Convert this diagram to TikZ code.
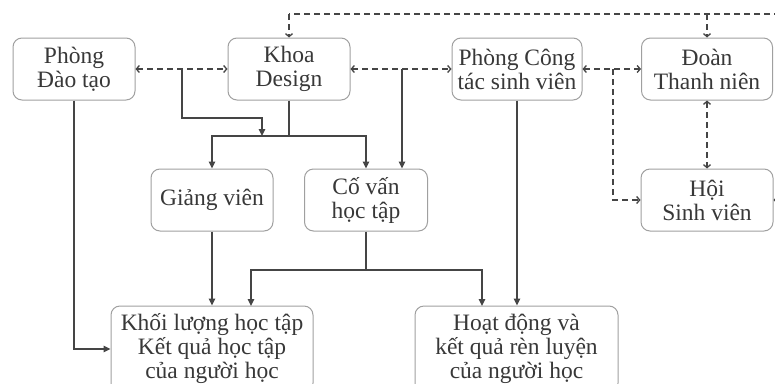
\documentclass[tikz,border=0pt]{standalone}
\usepackage{fontspec}
\setmainfont{Liberation Serif}
\usetikzlibrary{arrows.meta,calc}
\definecolor{ln}{HTML}{454545}
\definecolor{bx}{HTML}{A0A0A0}
\definecolor{tx}{HTML}{383838}
\begin{document}
\begin{tikzpicture}[x=1pt,y=-1pt,
  box/.style={draw=bx, line width=1pt, rounded corners=9pt, align=center, text=tx,
    font=\fontsize{23.5}{24}\selectfont, inner sep=0pt, minimum height=62pt},
  sarr/.style={draw=ln, line width=1.3pt, -{Triangle[length=7pt,width=6.5pt]}},
  sline/.style={draw=ln, line width=1.3pt},
  dline/.style={draw=ln, line width=1.3pt, dash pattern=on 6pt off 4pt},
  dto/.style={dline, -{Straight Barb[length=3pt,width=7pt]}},
  dboth/.style={dline, {Straight Barb[length=3pt,width=7pt]}-{Straight Barb[length=3pt,width=7pt]}}]
\clip (0,0) rectangle (775,383);
\fill[white] (0,0) rectangle (775,383);
% nodes
\node[box, minimum width=122pt] (PDT) at (74,69) {Phòng\\Đào tạo};
\node[box, minimum width=122pt] (KD) at (289,69) {Khoa\\Design};
\node[box, minimum width=130pt] (CT) at (517,69) {Phòng Công\\tác sinh viên};
\node[box, minimum width=131pt] (DT) at (707,69) {Đoàn\\Thanh niên};
\node[box, minimum width=122pt] (GV) at (212,200) {Giảng viên};
\node[box, minimum width=123pt] (CV) at (366,200) {Cố vấn\\học tập};
\node[box, minimum width=132pt] (HS) at (707,200) {Hội\\Sinh viên};
\node[box, minimum width=202pt, minimum height=86pt] (KL) at (212,349) {Khối lượng học tập\\Kết quả học tập\\của người học};
\node[box, minimum width=203pt, minimum height=86pt] (HD) at (516.5,349) {Hoạt động và\\kết quả rèn luyện\\của người học};
% coordinates
\coordinate (T0) at (289,14);
\coordinate (T1) at (707,14);
\coordinate (T2) at (790,14);
\coordinate (R0) at (790,200);
\coordinate (j1) at (182,69);
\coordinate (j2) at (402,69);
\coordinate (j3) at (613,69);
\coordinate (h1) at (262,118);
\coordinate (k1) at (289,136);
\coordinate (c1) at (366,270);
% dashed links
\draw[dboth] (PDT.east) -- (KD.west);
\draw[dboth] (KD.east) -- (CT.west);
\draw[dboth] (CT.east) -- (DT.west);
\draw[dboth] (DT.south) -- (HS.north);
\draw[dline] (T2) -- (T0);
\draw[dto] (T0) -- (KD.north);
\draw[dto] (T1) -- (DT.north);
\draw[dto] (j3) |- (HS.west);
\draw[dto] (R0) -- (HS.east);
% solid links
\draw[sarr] (j1) |- (h1) -- (h1 |- k1);
\draw[sline] (KD.south) -- (k1);
\draw[sarr] (k1) -| (GV.north);
\draw[sarr] (k1) -| (CV.north);
\draw[sarr] (j2) -- (j2 |- CV.north);
\draw[sarr] (PDT.south) |- (KL.west);
\draw[sarr] (GV.south) -- (KL.north);
\draw[sline] (CV.south) -- (c1);
\draw[sarr] (c1) -| (251,306);
\draw[sarr] (c1) -| (482,306);
\draw[sarr] (CT.south) -- (CT.south |- HD.north);
\end{tikzpicture}
\end{document}
